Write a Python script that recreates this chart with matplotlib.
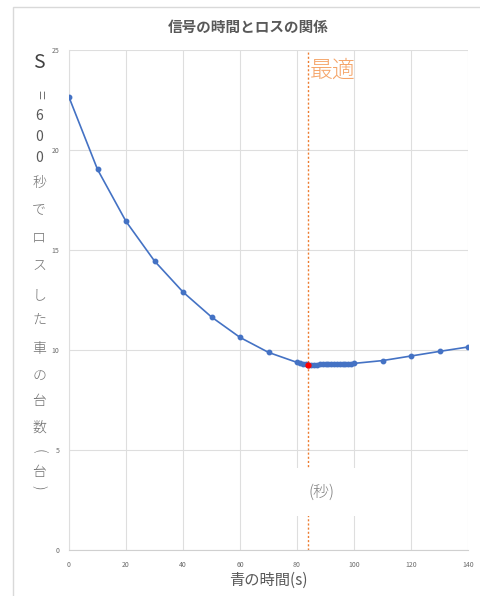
import numpy as np
import matplotlib.pyplot as plt
import matplotlib
from matplotlib.patches import Rectangle
matplotlib.use('Agg')

plt.rcParams['font.family'] = ['Noto Sans CJK JP', 'DejaVu Sans']

# green time (s) and lost cars per 600 s
green_time = [0, 10, 20, 30, 40, 50, 60, 70,
              80, 81, 82, 83, 84, 85, 86, 87, 88, 89, 90,
              91, 92, 93, 94, 95, 96, 97, 98, 99, 100,
              110, 120, 130, 140]
lost_cars = [22.64, 19.03, 16.43, 14.45, 12.90, 11.65, 10.63, 9.88,
             9.38, 9.33, 9.30, 9.28, 9.26, 9.27, 9.27, 9.27, 9.28, 9.28, 9.28,
             9.29, 9.29, 9.29, 9.30, 9.30, 9.31, 9.31, 9.32, 9.32, 9.33,
             9.47, 9.70, 9.93, 10.15]
best_time = 84
best_loss = 9.26

x_ticks = [0, 20, 40, 60, 80, 100, 120, 140]
y_ticks = [0, 5, 10, 15, 20, 25]

title = '信号の時間とロスの関係'
xlabel = '青の時間(s)'
ylabel_chars = ['S', '=', '6', '0', '0', '秒', 'で', 'ロ', 'ス', 'し', 'た',
                '車', 'の', '台', '数', '(', '台', ')']
ylabel_y = [63, 94, 116, 137, 158, 183, 210, 238, 266, 295, 321,
            349, 376, 401, 428, 451, 472, 487]

W, H = 480, 596
fig = plt.figure(figsize=(W / 100, H / 100), dpi=100)
fig.patch.set_facecolor('white')

def fx(px):
    return px / W

def fy(py):
    return 1 - py / H

# outer chart frame
fig.patches.append(Rectangle((fx(13), fy(620)), fx(500) - fx(13), fy(7) - fy(620),
                             transform=fig.transFigure, fill=False,
                             edgecolor='#d9d9d9', lw=1.0))

ax = fig.add_axes([fx(69), fy(550), fx(468) - fx(69), fy(50) - fy(550)])
ax.set_xlim(0, 140)
ax.set_ylim(0, 25)
ax.set_xticks(x_ticks)
ax.set_yticks(y_ticks)
ax.tick_params(length=0, labelsize=5, colors='#6a6a6a', pad=7)
ax.tick_params(axis='x', pad=8)
ax.grid(True, color='#dedede', lw=0.8)
ax.set_axisbelow(True)
for s in ax.spines.values():
    s.set_visible(False)
ax.spines['bottom'].set_visible(True)
ax.spines['bottom'].set_color('#d0d0d0')
ax.spines['left'].set_visible(True)
ax.spines['left'].set_color('#dedede')

ax.plot(green_time, lost_cars, color='#4472C4', lw=1.2, marker='o', ms=3.2,
        zorder=3)
ax.plot([best_time], [best_loss], marker='o', ms=3.5, color='#ff0000',
        zorder=4)

ax.axvline(best_time, color='#ED7D31', lw=1.0, ls=(0, (1.5, 1.5)), zorder=2)

# white label box with unit over the grid
box_y0 = (550 - 516) / 20
box_y1 = (550 - 468) / 20
ax.add_patch(Rectangle(((282 - 69) / 400 * 140, box_y0),
                       (362 - 282) / 400 * 140, box_y1 - box_y0,
                       facecolor='white', edgecolor='none', zorder=5))
fig.text(fx(321), fy(492), '(秒)', ha='center', va='center', fontsize=11.5,
         color='#808080', fontweight='light', zorder=6)

fig.text(fx(310), fy(70), '最適', ha='left', va='center', fontsize=16.5,
         color='#F5A468', fontweight='light')

fig.text(fx(248), fy(27), title, ha='center', va='center', fontsize=10.5,
         fontweight='bold', color='#595959')
fig.text(fx(268), fy(580), xlabel, ha='center', va='center', fontsize=11,
         color='#595959')

for ch, py in zip(ylabel_chars, ylabel_y):
    rot = 0
    size = 10
    col = '#707070'
    weight = 'light'
    if ch == 'S':
        size = 14
        col = '#404040'
        weight = 'normal'
    elif ch == '=':
        rot = -90
        size = 12
        col = '#595959'
    elif ch in ('(', ')'):
        rot = -90
        size = 10.5
    elif ch in ('6', '0'):
        col = '#595959'
        weight = 'normal'
    fig.text(fx(39), fy(py), ch, ha='center', va='center', fontsize=size,
             color=col, rotation=rot, fontweight=weight,
             rotation_mode='anchor' if rot else 'default')

fig.savefig('out.png', dpi=100)
